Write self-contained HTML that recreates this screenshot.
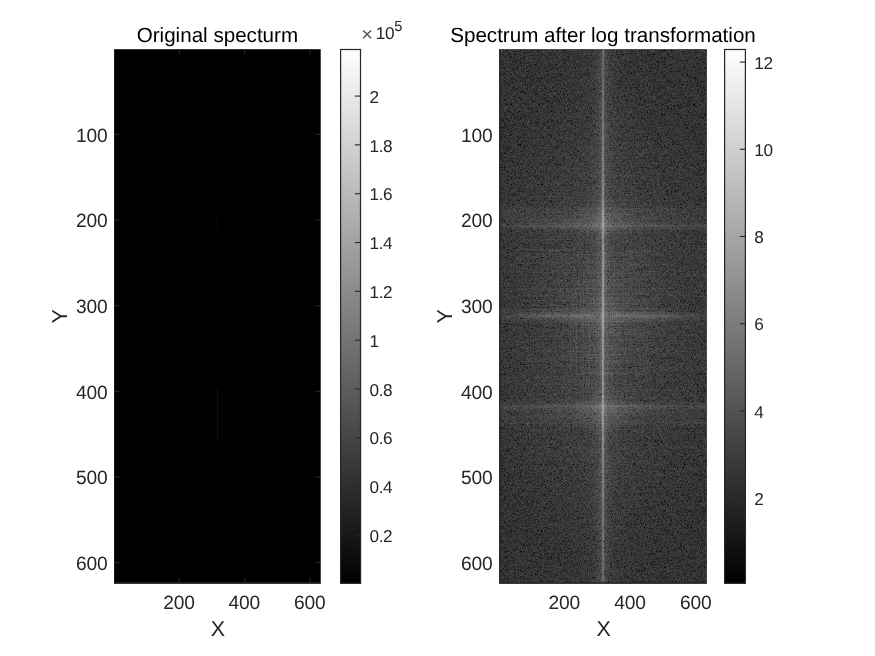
<!DOCTYPE html>
<html lang="en"><head><meta charset="utf-8"><title>Spectrum figure</title>
<style>html,body{margin:0;padding:0;background:#fff;overflow:hidden}svg{display:block}text{font-family:"Liberation Sans",Arial,Helvetica,sans-serif;fill:#262626;text-rendering:geometricPrecision}</style></head><body>
<svg width="875" height="656" viewBox="0 0 875 656">
<defs>
<linearGradient id="cb" x1="0" y1="1" x2="0" y2="0"><stop offset="0" stop-color="#000"/><stop offset="1" stop-color="#fff"/></linearGradient>
<filter id="noise" x="0" y="0" width="100%" height="100%" color-interpolation-filters="sRGB"><feTurbulence type="fractalNoise" baseFrequency="1.7" numOctaves="1" seed="7"/><feColorMatrix type="matrix" values="0 0 0 1 0  0 0 0 1 0  0 0 0 1 0  0 0 0 0 1"/><feComponentTransfer><feFuncR type="table" tableValues="0.000 0.000 0.000 0.000 0.000 0.000 0.000 0.000 0.000 0.000 0.024 0.067 0.093 0.114 0.133 0.146 0.159 0.172 0.183 0.195 0.203 0.212 0.222 0.229 0.236 0.243 0.249 0.256 0.263 0.270 0.280 0.286 0.292 0.299 0.300 0.300 0.300 0.300 0.300 0.300 0.300"/><feFuncG type="table" tableValues="0.000 0.000 0.000 0.000 0.000 0.000 0.000 0.000 0.000 0.000 0.024 0.067 0.093 0.114 0.133 0.146 0.159 0.172 0.183 0.195 0.203 0.212 0.222 0.229 0.236 0.243 0.249 0.256 0.263 0.270 0.280 0.286 0.292 0.299 0.300 0.300 0.300 0.300 0.300 0.300 0.300"/><feFuncB type="table" tableValues="0.000 0.000 0.000 0.000 0.000 0.000 0.000 0.000 0.000 0.000 0.024 0.067 0.093 0.114 0.133 0.146 0.159 0.172 0.183 0.195 0.203 0.212 0.222 0.229 0.236 0.243 0.249 0.256 0.263 0.270 0.280 0.286 0.292 0.299 0.300 0.300 0.300 0.300 0.300 0.300 0.300"/></feComponentTransfer></filter>
<linearGradient id="vg" x1="0" y1="0" x2="1" y2="0"><stop offset="0.0376" stop-color="#fff" stop-opacity="0.0022"/><stop offset="0.1917" stop-color="#fff" stop-opacity="0.0048"/><stop offset="0.2688" stop-color="#fff" stop-opacity="0.0074"/><stop offset="0.3459" stop-color="#fff" stop-opacity="0.0121"/><stop offset="0.3844" stop-color="#fff" stop-opacity="0.0165"/><stop offset="0.4229" stop-color="#fff" stop-opacity="0.0250"/><stop offset="0.4422" stop-color="#fff" stop-opacity="0.0339"/><stop offset="0.4615" stop-color="#fff" stop-opacity="0.0517"/><stop offset="0.4711" stop-color="#fff" stop-opacity="0.0674"/><stop offset="0.4807" stop-color="#fff" stop-opacity="0.0900"/><stop offset="0.4855" stop-color="#fff" stop-opacity="0.1033"/><stop offset="0.4904" stop-color="#fff" stop-opacity="0.1162"/><stop offset="0.4952" stop-color="#fff" stop-opacity="0.1260"/><stop offset="0.5000" stop-color="#fff" stop-opacity="0.1300"/><stop offset="0.5048" stop-color="#fff" stop-opacity="0.1260"/><stop offset="0.5096" stop-color="#fff" stop-opacity="0.1162"/><stop offset="0.5145" stop-color="#fff" stop-opacity="0.1033"/><stop offset="0.5193" stop-color="#fff" stop-opacity="0.0900"/><stop offset="0.5289" stop-color="#fff" stop-opacity="0.0674"/><stop offset="0.5385" stop-color="#fff" stop-opacity="0.0517"/><stop offset="0.5578" stop-color="#fff" stop-opacity="0.0339"/><stop offset="0.5771" stop-color="#fff" stop-opacity="0.0250"/><stop offset="0.6156" stop-color="#fff" stop-opacity="0.0165"/><stop offset="0.6541" stop-color="#fff" stop-opacity="0.0121"/><stop offset="0.7312" stop-color="#fff" stop-opacity="0.0074"/><stop offset="0.8083" stop-color="#fff" stop-opacity="0.0048"/><stop offset="0.9624" stop-color="#fff" stop-opacity="0.0022"/></linearGradient>
<linearGradient id="lg" x1="0" y1="0" x2="0" y2="1"><stop offset="0" stop-color="#fff" stop-opacity="0.17"/><stop offset="0.15" stop-color="#fff" stop-opacity="0.24"/><stop offset="0.31" stop-color="#fff" stop-opacity="0.36"/><stop offset="0.5" stop-color="#fff" stop-opacity="0.38"/><stop offset="0.69" stop-color="#fff" stop-opacity="0.36"/><stop offset="0.85" stop-color="#fff" stop-opacity="0.24"/><stop offset="1" stop-color="#fff" stop-opacity="0.17"/></linearGradient>
<radialGradient id="vr"><stop offset="0" stop-color="#fff" stop-opacity="0.075"/><stop offset="0.04" stop-color="#fff" stop-opacity="0.05"/><stop offset="0.09" stop-color="#fff" stop-opacity="0.03"/><stop offset="0.2" stop-color="#fff" stop-opacity="0.018"/><stop offset="0.5" stop-color="#fff" stop-opacity="0.008"/><stop offset="1" stop-color="#fff" stop-opacity="0"/></radialGradient>
<radialGradient id="rg"><stop offset="0" stop-color="#fff" stop-opacity="1"/><stop offset="0.5" stop-color="#fff" stop-opacity="0.45"/><stop offset="1" stop-color="#fff" stop-opacity="0"/></radialGradient>
<linearGradient id="bl" x1="0" y1="0" x2="1" y2="0"><stop offset="0" stop-color="#fff" stop-opacity="0.35"/><stop offset="0.35" stop-color="#fff" stop-opacity="1"/><stop offset="0.65" stop-color="#fff" stop-opacity="1"/><stop offset="1" stop-color="#fff" stop-opacity="0.35"/></linearGradient>
<filter id="streak" x="0" y="0" width="100%" height="100%" color-interpolation-filters="sRGB"><feTurbulence type="fractalNoise" baseFrequency="0.012 1.3" numOctaves="1" seed="11"/><feColorMatrix type="matrix" values="0 0 0 0 1  0 0 0 0 1  0 0 0 0 1  0 0 0 0.36 -0.16"/></filter>
<filter id="streakv" x="0" y="0" width="100%" height="100%" color-interpolation-filters="sRGB"><feTurbulence type="fractalNoise" baseFrequency="0.9 0.01" numOctaves="1" seed="5"/><feColorMatrix type="matrix" values="0 0 0 0 1  0 0 0 0 1  0 0 0 0 1  0 0 0 0.36 -0.16"/></filter>
<mask id="cm2" maskUnits="userSpaceOnUse" x="499.20" y="49.20" width="207.60" height="534.40"><ellipse cx="603" cy="316" rx="70" ry="190" fill="url(#rg)"/></mask>
<linearGradient id="hmg" x1="0" y1="0" x2="1" y2="0"><stop offset="0" stop-color="#fff" stop-opacity="0.72"/><stop offset="0.3" stop-color="#fff" stop-opacity="0.9"/><stop offset="0.5" stop-color="#fff" stop-opacity="1"/><stop offset="0.7" stop-color="#fff" stop-opacity="0.9"/><stop offset="1" stop-color="#fff" stop-opacity="0.72"/></linearGradient>
<mask id="hm" maskUnits="userSpaceOnUse" x="499.20" y="49.20" width="207.60" height="534.40"><rect x="499.20" y="49.20" width="207.60" height="534.40" fill="url(#hmg)"/></mask>
<linearGradient id="hmg2" x1="0" y1="0" x2="1" y2="0"><stop offset="0" stop-color="#fff" stop-opacity="0.3"/><stop offset="0.12" stop-color="#fff" stop-opacity="0.55"/><stop offset="0.22" stop-color="#fff" stop-opacity="1"/><stop offset="0.43" stop-color="#fff" stop-opacity="1"/><stop offset="0.47" stop-color="#fff" stop-opacity="0.45"/><stop offset="0.53" stop-color="#fff" stop-opacity="0.45"/><stop offset="0.57" stop-color="#fff" stop-opacity="1"/><stop offset="0.78" stop-color="#fff" stop-opacity="1"/><stop offset="0.88" stop-color="#fff" stop-opacity="0.55"/><stop offset="1" stop-color="#fff" stop-opacity="0.3"/></linearGradient>
<mask id="hm2" maskUnits="userSpaceOnUse" x="499.20" y="49.20" width="207.60" height="534.40"><rect x="499.20" y="49.20" width="207.60" height="534.40" fill="url(#hmg2)"/></mask>
<mask id="cm" maskUnits="userSpaceOnUse" x="499.20" y="49.20" width="207.60" height="534.40"><ellipse cx="603.0" cy="316" rx="150" ry="250" fill="url(#rg)"/></mask>
<clipPath id="clip2"><rect x="499.20" y="49.20" width="207.60" height="534.40"/></clipPath>
</defs>
<rect width="875" height="656" fill="#fff"/>
<rect x="114.10" y="49.20" width="206.60" height="534.40" fill="#000"/>
<rect x="217.1" y="214" width="0.9" height="14" fill="#fff" opacity="0.06"/><rect x="217.1" y="389" width="0.9" height="51" fill="#fff" opacity="0.07"/>
<path d="M179.32 583.60v-5.5M179.32 49.20v5.5" stroke="#2c2c2c" stroke-width="1"/>
<text x="178.92" y="609.2" font-size="19.20" text-anchor="middle" letter-spacing="-0.2">200</text>
<path d="M244.70 583.60v-5.5M244.70 49.20v5.5" stroke="#2c2c2c" stroke-width="1"/>
<text x="244.30" y="609.2" font-size="19.20" text-anchor="middle" letter-spacing="-0.2">400</text>
<path d="M310.08 583.60v-5.5M310.08 49.20v5.5" stroke="#2c2c2c" stroke-width="1"/>
<text x="309.68" y="609.2" font-size="19.20" text-anchor="middle" letter-spacing="-0.2">600</text>
<path d="M114.10 134.41h5.5M320.70 134.41h-5.5" stroke="#2c2c2c" stroke-width="1"/>
<text x="107.40" y="141.71" font-size="19.20" text-anchor="end" letter-spacing="-0.2">100</text>
<path d="M114.10 220.05h5.5M320.70 220.05h-5.5" stroke="#2c2c2c" stroke-width="1"/>
<text x="107.40" y="227.35" font-size="19.20" text-anchor="end" letter-spacing="-0.2">200</text>
<path d="M114.10 305.69h5.5M320.70 305.69h-5.5" stroke="#2c2c2c" stroke-width="1"/>
<text x="107.40" y="312.99" font-size="19.20" text-anchor="end" letter-spacing="-0.2">300</text>
<path d="M114.10 391.34h5.5M320.70 391.34h-5.5" stroke="#2c2c2c" stroke-width="1"/>
<text x="107.40" y="398.64" font-size="19.20" text-anchor="end" letter-spacing="-0.2">400</text>
<path d="M114.10 476.98h5.5M320.70 476.98h-5.5" stroke="#2c2c2c" stroke-width="1"/>
<text x="107.40" y="484.28" font-size="19.20" text-anchor="end" letter-spacing="-0.2">500</text>
<path d="M114.10 562.62h5.5M320.70 562.62h-5.5" stroke="#2c2c2c" stroke-width="1"/>
<text x="107.40" y="569.92" font-size="19.20" text-anchor="end" letter-spacing="-0.2">600</text>
<path d="M114.10 583.00H320.70" fill="none" stroke="#262626" stroke-width="1.3"/>
<text x="217.40" y="42.3" font-size="20.60" text-anchor="middle" style="fill:#000">Original specturm</text>
<text x="218.00" y="636.3" font-size="21.50" text-anchor="middle">X</text>
<text transform="translate(67.10 316.40) rotate(-90)" font-size="21.50" text-anchor="middle">Y</text>
<rect x="340.00" y="49.20" width="21.10" height="534.40" fill="url(#cb)"/>
<rect x="340.60" y="49.50" width="19.90" height="533.80" fill="none" stroke="#262626" stroke-width="1.2"/>
<path d="M360.50 535.39h-5.6" stroke="#262626" stroke-width="1.1"/>
<text x="369.40" y="542.09" font-size="17.20" letter-spacing="-0.3">0.2</text>
<path d="M360.50 486.58h-5.6" stroke="#262626" stroke-width="1.1"/>
<text x="369.40" y="493.28" font-size="17.20" letter-spacing="-0.3">0.4</text>
<path d="M360.50 437.76h-5.6" stroke="#262626" stroke-width="1.1"/>
<text x="369.40" y="444.46" font-size="17.20" letter-spacing="-0.3">0.6</text>
<path d="M360.50 388.95h-5.6" stroke="#262626" stroke-width="1.1"/>
<text x="369.40" y="395.65" font-size="17.20" letter-spacing="-0.3">0.8</text>
<path d="M360.50 340.14h-5.6" stroke="#262626" stroke-width="1.1"/>
<text x="369.40" y="346.84" font-size="17.20" letter-spacing="-0.3">1</text>
<path d="M360.50 291.33h-5.6" stroke="#262626" stroke-width="1.1"/>
<text x="369.40" y="298.03" font-size="17.20" letter-spacing="-0.3">1.2</text>
<path d="M360.50 242.52h-5.6" stroke="#262626" stroke-width="1.1"/>
<text x="369.40" y="249.22" font-size="17.20" letter-spacing="-0.3">1.4</text>
<path d="M360.50 193.70h-5.6" stroke="#262626" stroke-width="1.1"/>
<text x="369.40" y="200.40" font-size="17.20" letter-spacing="-0.3">1.6</text>
<path d="M360.50 144.89h-5.6" stroke="#262626" stroke-width="1.1"/>
<text x="369.40" y="151.59" font-size="17.20" letter-spacing="-0.3">1.8</text>
<path d="M360.50 96.08h-5.6" stroke="#262626" stroke-width="1.1"/>
<text x="369.40" y="102.78" font-size="17.20" letter-spacing="-0.3">2</text>
<text x="361.2" y="41.1" font-size="20" opacity="0.8">×</text><text x="375.7" y="38.5" font-size="17.20" letter-spacing="-0.3">10</text><text x="394.3" y="30.8" font-size="14.6">5</text>
<g clip-path="url(#clip2)">
<rect x="499.20" y="49.20" width="207.60" height="534.40" fill="#424242"/>
<rect x="499.20" y="49.20" width="207.60" height="534.40" fill="#000" filter="url(#noise)"/>
<rect x="499.20" y="49.20" width="207.60" height="534.40" fill="#fff" filter="url(#streak)" mask="url(#cm)"/>
<rect x="499.20" y="49.20" width="207.60" height="534.40" fill="#fff" filter="url(#streakv)" mask="url(#cm2)"/>
<ellipse cx="603.00" cy="316.00" rx="160.0" ry="240.0" fill="url(#rg)" opacity="0.065"/>
<rect x="499.20" y="49.20" width="207.60" height="534.40" fill="url(#vg)"/>
<ellipse cx="603.00" cy="316.00" rx="100" ry="330" fill="url(#vr)" opacity="0.5"/>
<linearGradient id="b203" x1="0" y1="0" x2="0" y2="1"><stop offset="0.000" stop-color="#fff" stop-opacity="0.000"/><stop offset="0.172" stop-color="#fff" stop-opacity="0.030"/><stop offset="0.214" stop-color="#fff" stop-opacity="0.075"/><stop offset="0.259" stop-color="#fff" stop-opacity="0.040"/><stop offset="0.655" stop-color="#fff" stop-opacity="0.045"/><stop offset="0.741" stop-color="#fff" stop-opacity="0.080"/><stop offset="0.793" stop-color="#fff" stop-opacity="0.140"/><stop offset="0.845" stop-color="#fff" stop-opacity="0.060"/><stop offset="1.000" stop-color="#fff" stop-opacity="0.000"/></linearGradient>
<g mask="url(#hm)"><rect x="499.20" y="203.00" width="207.60" height="29.00" fill="url(#b203)"/></g>
<linearGradient id="b306" x1="0" y1="0" x2="0" y2="1"><stop offset="0.000" stop-color="#fff" stop-opacity="0.000"/><stop offset="0.250" stop-color="#fff" stop-opacity="0.030"/><stop offset="0.375" stop-color="#fff" stop-opacity="0.110"/><stop offset="0.460" stop-color="#fff" stop-opacity="0.170"/><stop offset="0.500" stop-color="#fff" stop-opacity="0.220"/><stop offset="0.540" stop-color="#fff" stop-opacity="0.170"/><stop offset="0.625" stop-color="#fff" stop-opacity="0.110"/><stop offset="0.750" stop-color="#fff" stop-opacity="0.030"/><stop offset="1.000" stop-color="#fff" stop-opacity="0.000"/></linearGradient>
<g mask="url(#hm2)"><rect x="499.20" y="306.00" width="207.60" height="20.00" fill="url(#b306)"/></g>
<linearGradient id="b400" x1="0" y1="0" x2="0" y2="1"><stop offset="0.000" stop-color="#fff" stop-opacity="0.000"/><stop offset="0.155" stop-color="#fff" stop-opacity="0.060"/><stop offset="0.217" stop-color="#fff" stop-opacity="0.140"/><stop offset="0.269" stop-color="#fff" stop-opacity="0.080"/><stop offset="0.345" stop-color="#fff" stop-opacity="0.045"/><stop offset="0.741" stop-color="#fff" stop-opacity="0.040"/><stop offset="0.786" stop-color="#fff" stop-opacity="0.075"/><stop offset="0.828" stop-color="#fff" stop-opacity="0.030"/><stop offset="1.000" stop-color="#fff" stop-opacity="0.000"/></linearGradient>
<g mask="url(#hm)"><rect x="499.20" y="400.00" width="207.60" height="29.00" fill="url(#b400)"/></g>
<ellipse cx="603.00" cy="225.00" rx="80.0" ry="11.0" fill="url(#rg)" opacity="0.060"/>
<ellipse cx="603.00" cy="407.50" rx="80.0" ry="11.0" fill="url(#rg)" opacity="0.060"/>
<ellipse cx="603.00" cy="221.00" rx="36.0" ry="24.0" fill="url(#rg)" opacity="0.070"/>
<ellipse cx="603.00" cy="411.00" rx="36.0" ry="24.0" fill="url(#rg)" opacity="0.070"/>
<ellipse cx="603.00" cy="316.00" rx="45.0" ry="20.0" fill="url(#rg)" opacity="0.040"/>
<rect x="601.50" y="49.20" width="3" height="534.40" fill="url(#lg)" opacity="0.35"/>
<rect x="602.30" y="49.20" width="1.4" height="534.40" fill="url(#lg)" opacity="0.8"/>
</g>
<path d="M564.73 583.60v-5.5M564.73 49.20v5.5" stroke="#262626" stroke-width="1"/>
<text x="564.33" y="609.2" font-size="19.20" text-anchor="middle" letter-spacing="-0.2">200</text>
<path d="M630.43 583.60v-5.5M630.43 49.20v5.5" stroke="#262626" stroke-width="1"/>
<text x="630.03" y="609.2" font-size="19.20" text-anchor="middle" letter-spacing="-0.2">400</text>
<path d="M696.12 583.60v-5.5M696.12 49.20v5.5" stroke="#262626" stroke-width="1"/>
<text x="695.72" y="609.2" font-size="19.20" text-anchor="middle" letter-spacing="-0.2">600</text>
<path d="M499.20 134.41h5.5M706.80 134.41h-5.5" stroke="#262626" stroke-width="1"/>
<text x="492.50" y="141.71" font-size="19.20" text-anchor="end" letter-spacing="-0.2">100</text>
<path d="M499.20 220.05h5.5M706.80 220.05h-5.5" stroke="#262626" stroke-width="1"/>
<text x="492.50" y="227.35" font-size="19.20" text-anchor="end" letter-spacing="-0.2">200</text>
<path d="M499.20 305.69h5.5M706.80 305.69h-5.5" stroke="#262626" stroke-width="1"/>
<text x="492.50" y="312.99" font-size="19.20" text-anchor="end" letter-spacing="-0.2">300</text>
<path d="M499.20 391.34h5.5M706.80 391.34h-5.5" stroke="#262626" stroke-width="1"/>
<text x="492.50" y="398.64" font-size="19.20" text-anchor="end" letter-spacing="-0.2">400</text>
<path d="M499.20 476.98h5.5M706.80 476.98h-5.5" stroke="#262626" stroke-width="1"/>
<text x="492.50" y="484.28" font-size="19.20" text-anchor="end" letter-spacing="-0.2">500</text>
<path d="M499.20 562.62h5.5M706.80 562.62h-5.5" stroke="#262626" stroke-width="1"/>
<text x="492.50" y="569.92" font-size="19.20" text-anchor="end" letter-spacing="-0.2">600</text>
<path d="M499.85 49.20V583.00H706.80" fill="none" stroke="#262626" stroke-width="1.3"/>
<text x="603.00" y="42.3" font-size="20.60" text-anchor="middle" style="fill:#000">Spectrum after log transformation</text>
<text x="603.60" y="636.3" font-size="21.50" text-anchor="middle">X</text>
<text transform="translate(452.20 316.40) rotate(-90)" font-size="21.50" text-anchor="middle">Y</text>
<rect x="724.00" y="49.20" width="22.00" height="534.40" fill="url(#cb)"/>
<rect x="724.60" y="49.50" width="20.80" height="533.80" fill="none" stroke="#262626" stroke-width="1.2"/>
<path d="M745.40 498.10h-5.6" stroke="#262626" stroke-width="1.1"/>
<text x="754.30" y="504.80" font-size="17.20" letter-spacing="-0.3">2</text>
<path d="M745.40 410.90h-5.6" stroke="#262626" stroke-width="1.1"/>
<text x="754.30" y="417.60" font-size="17.20" letter-spacing="-0.3">4</text>
<path d="M745.40 323.70h-5.6" stroke="#262626" stroke-width="1.1"/>
<text x="754.30" y="330.40" font-size="17.20" letter-spacing="-0.3">6</text>
<path d="M745.40 236.50h-5.6" stroke="#262626" stroke-width="1.1"/>
<text x="754.30" y="243.20" font-size="17.20" letter-spacing="-0.3">8</text>
<path d="M745.40 149.30h-5.6" stroke="#262626" stroke-width="1.1"/>
<text x="754.30" y="156.00" font-size="17.20" letter-spacing="-0.3">10</text>
<path d="M745.40 62.10h-5.6" stroke="#262626" stroke-width="1.1"/>
<text x="754.30" y="68.80" font-size="17.20" letter-spacing="-0.3">12</text>
</svg></body></html>
